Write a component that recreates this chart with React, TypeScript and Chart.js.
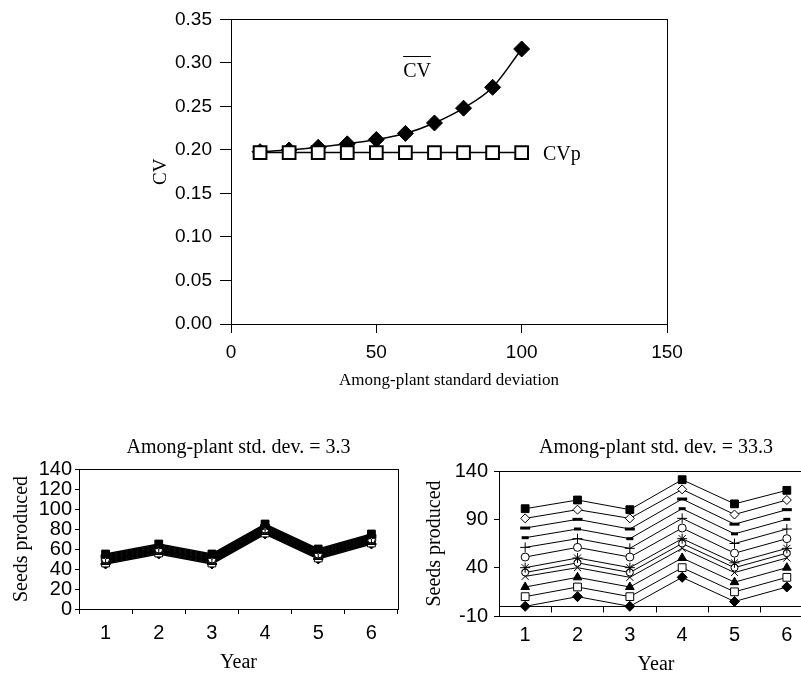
import React, { useEffect, useRef } from "react";
import { Chart, registerables } from "chart.js";

Chart.register(...registerables);

// ---------------- Top panel data ----------------
const sdLevels = [10, 20, 30, 40, 50, 60, 70, 80, 90, 100];
const cvMeanValues = [0.198, 0.2, 0.203, 0.207, 0.212, 0.219, 0.231, 0.248, 0.272, 0.316];
const cvPopValues = [0.197, 0.197, 0.197, 0.197, 0.197, 0.197, 0.197, 0.197, 0.197, 0.197];
const topXTicks = [0, 50, 100, 150];
const topYTicks = [0, 0.05, 0.1, 0.15, 0.2, 0.25, 0.3, 0.35];

// ---------------- Bottom panels data ----------------
const years = ["1", "2", "3", "4", "5", "6"];
const lowYTicks = [0, 20, 40, 60, 80, 100, 120, 140];
const highYTicks = [-10, 40, 90, 140];

// Among-plant std. dev. = 3.3 (one series per plant)
const lowSquare = [55, 65, 55, 85, 60, 75];
const lowDiamondOpen = [54, 64, 54, 84, 59, 74];
const lowDashLong = [53, 63, 53, 83, 58, 73];
const lowDashShort = [52, 62, 52, 82, 57, 72];
const lowPlus = [51, 61, 51, 81, 56, 71];
const lowCircle = [50, 60, 50, 80, 55, 70];
const lowStar = [49, 59, 49, 79, 54, 69];
const lowRing = [48.5, 58.5, 48.5, 78.5, 53.5, 68.5];
const lowCross = [48, 58, 48, 78, 53, 68];
const lowTriangle = [47, 57, 47, 77, 52, 67];
const lowSquareOpen = [46, 56, 46, 76, 51, 66];
const lowDiamond = [45, 55, 45, 75, 50, 65];

// Among-plant std. dev. = 33.3
const hiSquare = [101, 110, 100, 131, 106, 120];
const hiDiamondOpen = [91, 100, 91, 121, 95, 110];
const hiDashLong = [81, 90, 80, 111, 85, 100];
const hiDashShort = [71, 80, 70, 101, 75, 90];
const hiPlus = [61, 70, 60, 91, 65, 80];
const hiCircle = [51, 61, 51, 81, 55, 70];
const hiStar = [40, 50, 40, 70, 45, 60];
const hiRing = [35, 45, 35, 65, 40, 55];
const hiCross = [31, 40, 30, 60, 35, 50];
const hiTriangle = [20, 30, 20, 50, 25, 40];
const hiSquareOpen = [10, 20, 10, 40, 15, 30];
const hiDiamond = [0, 10, 0, 30, 5, 20];

const lowSeries = [lowSquare, lowDiamondOpen, lowDashLong, lowDashShort, lowPlus, lowCircle, lowStar, lowRing, lowCross, lowTriangle, lowSquareOpen, lowDiamond];
const hiSeries = [hiSquare, hiDiamondOpen, hiDashLong, hiDashShort, hiPlus, hiCircle, hiStar, hiRing, hiCross, hiTriangle, hiSquareOpen, hiDiamond];

// marker styles (same order as series)
const markerStyles: any[] = [
  { style: "rect", r: 5.5, fill: "#000", bw: 1 },
  { style: "rectRot", r: 4.5, fill: "#fff", bw: 1 },
  { style: "line", r: 5, fill: "#000", bw: 3 },
  { style: "line", r: 3.5, fill: "#000", bw: 3 },
  { style: "cross", r: 5, fill: "#000", bw: 1 },
  { style: "circle", r: 4, fill: "#fff", bw: 1 },
  { style: "star", r: 5, fill: "#000", bw: 1 },
  { style: "circle", r: 3.5, fill: "#fff", bw: 1 },
  { style: "crossRot", r: 5, fill: "#000", bw: 1 },
  { style: "triangle", r: 5, fill: "#000", bw: 1 },
  { style: "rect", r: 5.5, fill: "#fff", bw: 1 },
  { style: "rectRot", r: 5, fill: "#000", bw: 1 },
];

const SANS = "'Liberation Sans', Arial, sans-serif";
const SERIF = "'Liberation Serif', 'Times New Roman', serif";

const al = (p: number) => Math.round(p - 0.5) + 0.5;

const framePlugin = {
  id: "frame",
  afterDraw(chart: any) {
    const { ctx, chartArea: a } = chart;
    ctx.save();
    ctx.strokeStyle = "#000";
    ctx.lineWidth = 1;
    const l = al(a.left), t = al(a.top), r = al(a.right), b = al(a.bottom);
    ctx.strokeRect(l, t, r - l, b - t);
    ctx.restore();
  },
};

const zeroAxisPlugin = {
  id: "zeroAxis",
  beforeDatasetsDraw(chart: any) {
    const { ctx, chartArea: a } = chart;
    const xs = chart.scales.x;
    const ys = chart.scales.y;
    const y0 = al(ys.getPixelForValue(0));
    ctx.save();
    ctx.strokeStyle = "#000";
    ctx.lineWidth = 1;
    ctx.beginPath();
    ctx.moveTo(a.left, y0);
    ctx.lineTo(a.right, y0);
    for (let i = 1; i < years.length; i++) {
      const x = al((xs.getPixelForValue(i - 1) + xs.getPixelForValue(i)) / 2);
      ctx.moveTo(x, y0);
      ctx.lineTo(x, y0 + 6);
    }
    ctx.stroke();
    ctx.restore();
  },
};

const topLabelsPlugin = {
  id: "topLabels",
  afterDatasetsDraw(chart: any) {
    const { ctx } = chart;
    const xs = chart.scales.x;
    const ys = chart.scales.y;
    ctx.save();
    ctx.fillStyle = "#000";
    ctx.strokeStyle = "#000";
    ctx.font = `20px ${SERIF}`;
    ctx.textBaseline = "alphabetic";
    // CV with overline
    const cx = xs.getPixelForValue(64);
    const cy = ys.getPixelForValue(0.2837);
    ctx.textAlign = "center";
    ctx.fillText("CV", cx, cy);
    const w = ctx.measureText("CV").width;
    ctx.lineWidth = 1;
    ctx.beginPath();
    ctx.moveTo(cx - w / 2, Math.round(cy - 21) + 0.5);
    ctx.lineTo(cx + w / 2, Math.round(cy - 21) + 0.5);
    ctx.stroke();
    // CVp
    ctx.textAlign = "left";
    ctx.fillText("CVp", xs.getPixelForValue(107.3), ys.getPixelForValue(0.189));
    ctx.restore();
  },
};

function setTicks(values: number[]) {
  return (s: any) => {
    s.ticks = values.map((v) => ({ value: v }));
  };
}

function topConfig(): any {
  return {
    type: "line",
    data: {
      datasets: [
        {
          label: "CVp",
          data: sdLevels.map((x, i) => ({ x, y: cvPopValues[i] })),
          borderColor: "#000",
          borderWidth: 1.5,
          pointStyle: "rect",
          pointRadius: 9,
          pointBackgroundColor: "#fff",
          pointBorderColor: "#000",
          pointBorderWidth: 2,
          tension: 0,
          fill: false,
        },
        {
          label: "CV",
          data: sdLevels.map((x, i) => ({ x, y: cvMeanValues[i] })),
          borderColor: "#000",
          borderWidth: 1.5,
          pointStyle: "rectRot",
          pointRadius: 8,
          pointBackgroundColor: "#000",
          pointBorderColor: "#000",
          pointBorderWidth: 1,
          cubicInterpolationMode: "monotone",
          fill: false,
        },
      ],
    },
    options: {
      responsive: false,
      animation: false,
      devicePixelRatio: 1,
      events: [],
      layout: { padding: { left: 150, right: 134, top: 18, bottom: 9 } },
      plugins: { legend: { display: false }, tooltip: { enabled: false }, title: { display: false } },
      scales: {
        x: {
          type: "linear",
          min: topXTicks[0],
          max: topXTicks[topXTicks.length - 1],
          afterBuildTicks: setTicks(topXTicks),
          afterFit: (s: any) => { s.height = 67; },
          border: { display: false },
          grid: { drawOnChartArea: false, tickLength: 9, color: "#000", tickColor: "#000" },
          ticks: { color: "#000", font: { family: SANS, size: 19 }, padding: 8, maxRotation: 0, autoSkip: false },
          title: { display: true, text: "Among-plant standard deviation", color: "#000", font: { family: SERIF, size: 17 }, padding: { top: 0, bottom: 0 } },
        },
        y: {
          type: "linear",
          min: 0,
          max: 0.35,
          afterBuildTicks: setTicks(topYTicks),
          afterFit: (s: any) => { s.width = 81; },
          border: { display: false },
          grid: { drawOnChartArea: false, tickLength: 11, color: "#000", tickColor: "#000" },
          ticks: { color: "#000", font: { family: SANS, size: 19 }, padding: 8, autoSkip: false, callback: (v: any) => Number(v).toFixed(2) },
          title: { display: true, text: "CV", color: "#000", font: { family: SERIF, size: 19 }, padding: { top: 0, bottom: 0 } },
        },
      },
    },
    plugins: [framePlugin, topLabelsPlugin],
  };
}

function bottomConfig(opts: any): any {
  const datasets = opts.series.map((vals: number[], i: number) => {
    const m = markerStyles[i];
    return {
      label: "plant " + (i + 1),
      data: vals,
      borderColor: "#000",
      borderWidth: opts.lineWidth,
      pointStyle: m.style,
      pointRadius: m.r,
      pointBackgroundColor: m.fill,
      pointBorderColor: "#000",
      pointBorderWidth: m.bw,
      tension: 0,
      fill: false,
    };
  });
  return {
    type: "line",
    data: { labels: years, datasets },
    options: {
      responsive: false,
      animation: false,
      devicePixelRatio: 1,
      events: [],
      layout: { padding: opts.padding },
      plugins: {
        legend: { display: false },
        tooltip: { enabled: false },
        title: {
          display: true,
          text: opts.title,
          color: "#000",
          font: { family: SERIF, size: 20, weight: "normal" },
          padding: { top: 36, bottom: opts.titleBottom },
          fullSize: false,
        },
      },
      scales: {
        x: {
          type: "category",
          offset: true,
          afterFit: (s: any) => { s.height = opts.xHeight; },
          border: { display: false },
          grid: opts.xGrid
            ? { display: true, offset: true, drawOnChartArea: false, tickLength: 5, color: "#000", tickColor: "#000" }
            : { display: false, drawTicks: false, tickLength: 0 },
          ticks: { color: "#000", font: { family: SANS, size: 20 }, padding: 7, maxRotation: 0, autoSkip: false },
          title: { display: true, text: "Year", color: "#000", font: { family: SERIF, size: 20 }, padding: { top: 0, bottom: 0 } },
        },
        y: {
          type: "linear",
          min: opts.yTicks[0],
          max: opts.yTicks[opts.yTicks.length - 1],
          afterBuildTicks: setTicks(opts.yTicks),
          afterFit: (s: any) => { s.width = opts.yWidth; },
          border: { display: false },
          grid: { drawOnChartArea: false, tickLength: opts.yTickLen, color: "#000", tickColor: "#000" },
          ticks: { color: "#000", font: { family: SANS, size: 20 }, padding: opts.yTickPad, autoSkip: false },
          title: { display: true, text: "Seeds produced", color: "#000", font: { family: SERIF, size: 20 }, padding: { top: 0, bottom: 0 } },
        },
      },
    },
    plugins: opts.plugins,
  };
}

export default function App() {
  const topRef = useRef<HTMLCanvasElement>(null);
  const leftRef = useRef<HTMLCanvasElement>(null);
  const rightRef = useRef<HTMLCanvasElement>(null);

  useEffect(() => {
    const charts: Chart[] = [];
    charts.push(new Chart(topRef.current as HTMLCanvasElement, topConfig()));
    charts.push(
      new Chart(
        leftRef.current as HTMLCanvasElement,
        bottomConfig({
          series: lowSeries,
          title: "Among-plant std. dev. = 3.3",
          yTicks: lowYTicks,
          padding: { left: 10, right: 12, top: 0, bottom: 5 },
          titleBottom: 9,
          xHeight: 66,
          yWidth: 69,
          yTickLen: 4,
          yTickPad: 3,
          xGrid: true,
          lineWidth: 1.5,
          plugins: [framePlugin],
        })
      )
    );
    charts.push(
      new Chart(
        rightRef.current as HTMLCanvasElement,
        bottomConfig({
          series: hiSeries,
          title: "Among-plant std. dev. = 33.3",
          yTicks: highYTicks,
          padding: { left: 13, right: 17, top: 0, bottom: 3 },
          titleBottom: 11,
          xHeight: 61,
          yWidth: 76,
          yTickLen: 5,
          yTickPad: 6,
          xGrid: false,
          lineWidth: 1,
          plugins: [framePlugin, zeroAxisPlugin],
        })
      )
    );
    return () => charts.forEach((c) => c.destroy());
  }, []);

  return (
    <div style={{ position: "absolute", left: 0, top: 0, width: 801, height: 673, overflow: "hidden", background: "#fff" }}>
      <canvas ref={topRef} width={801} height={400} style={{ position: "absolute", left: 0, top: 0, width: 801, height: 400 }} />
      <canvas ref={leftRef} width={410} height={280} style={{ position: "absolute", left: 0, top: 400, width: 410, height: 280 }} />
      <canvas ref={rightRef} width={420} height={280} style={{ position: "absolute", left: 410, top: 400, width: 420, height: 280 }} />
    </div>
  );
}
